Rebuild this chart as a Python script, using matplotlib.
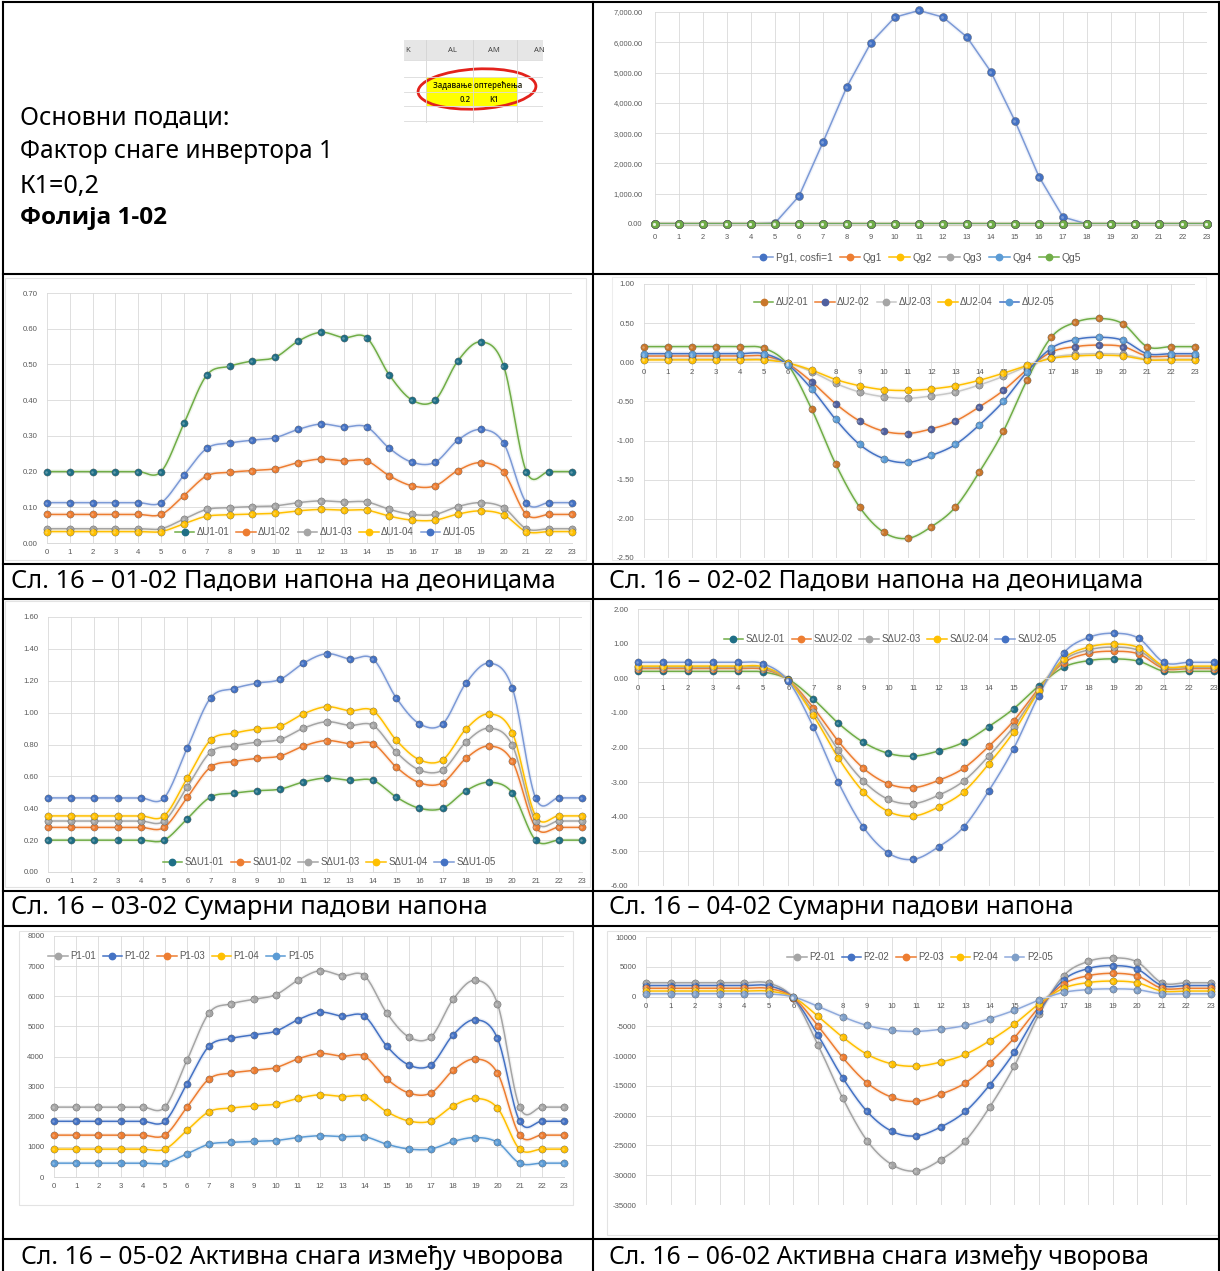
import numpy as np
import matplotlib
matplotlib.use("Agg")
import matplotlib.pyplot as plt
from matplotlib.lines import Line2D
from matplotlib.patches import Rectangle, Ellipse

# ---------------- DATA ----------------
hours = list(range(24))
hour_labels = [str(h) for h in hours]

pg1 = [0, 0, 0, 0, 0, 30, 920, 2700, 4540, 5990, 6830, 7050, 6830, 6170, 5020, 3400, 1560, 230, 0, 0, 0, 0, 0, 0]
qg1 = [0, 0, 0, 0, 0, 0, 0, 0, 0, 0, 0, 0, 0, 0, 0, 0, 0, 0, 0, 0, 0, 0, 0, 0]
qg2 = [0, 0, 0, 0, 0, 0, 0, 0, 0, 0, 0, 0, 0, 0, 0, 0, 0, 0, 0, 0, 0, 0, 0, 0]
qg3 = [0, 0, 0, 0, 0, 0, 0, 0, 0, 0, 0, 0, 0, 0, 0, 0, 0, 0, 0, 0, 0, 0, 0, 0]
qg4 = [0, 0, 0, 0, 0, 0, 0, 0, 0, 0, 0, 0, 0, 0, 0, 0, 0, 0, 0, 0, 0, 0, 0, 0]
qg5 = [0, 0, 0, 0, 0, 0, 0, 0, 0, 0, 0, 0, 0, 0, 0, 0, 0, 0, 0, 0, 0, 0, 0, 0]

du1_01 = [0.20, 0.20, 0.20, 0.20, 0.20, 0.20, 0.335, 0.47, 0.495, 0.51, 0.52, 0.565, 0.59, 0.575, 0.575, 0.47, 0.40, 0.40, 0.51, 0.563, 0.497, 0.20, 0.20, 0.20]
du1_02 = [0.08, 0.08, 0.08, 0.08, 0.08, 0.08, 0.133, 0.188, 0.198, 0.203, 0.208, 0.225, 0.235, 0.23, 0.23, 0.188, 0.16, 0.16, 0.203, 0.225, 0.198, 0.08, 0.08, 0.08]
du1_03 = [0.04, 0.04, 0.04, 0.04, 0.04, 0.04, 0.067, 0.094, 0.099, 0.102, 0.104, 0.113, 0.118, 0.115, 0.115, 0.094, 0.08, 0.08, 0.102, 0.113, 0.099, 0.04, 0.04, 0.04]
du1_04 = [0.032, 0.032, 0.032, 0.032, 0.032, 0.032, 0.054, 0.075, 0.079, 0.081, 0.083, 0.09, 0.094, 0.092, 0.092, 0.075, 0.064, 0.064, 0.081, 0.09, 0.079, 0.032, 0.032, 0.032]
du1_05 = [0.113, 0.113, 0.113, 0.113, 0.113, 0.113, 0.19, 0.265, 0.28, 0.288, 0.295, 0.318, 0.333, 0.325, 0.325, 0.265, 0.226, 0.226, 0.288, 0.318, 0.28, 0.113, 0.113, 0.113]

du2_01 = [0.20, 0.20, 0.20, 0.20, 0.20, 0.18, -0.03, -0.60, -1.30, -1.85, -2.17, -2.25, -2.10, -1.85, -1.40, -0.88, -0.22, 0.32, 0.51, 0.56, 0.49, 0.20, 0.20, 0.20]
du2_02 = [0.08, 0.08, 0.08, 0.08, 0.08, 0.08, -0.02, -0.25, -0.53, -0.75, -0.88, -0.91, -0.85, -0.75, -0.57, -0.36, -0.09, 0.13, 0.20, 0.22, 0.20, 0.08, 0.08, 0.08]
du2_03 = [0.04, 0.04, 0.04, 0.04, 0.04, 0.04, -0.01, -0.12, -0.27, -0.38, -0.44, -0.46, -0.43, -0.38, -0.29, -0.18, -0.05, 0.06, 0.10, 0.11, 0.10, 0.04, 0.04, 0.04]
du2_04 = [0.03, 0.03, 0.03, 0.03, 0.03, 0.03, -0.01, -0.10, -0.22, -0.30, -0.35, -0.36, -0.34, -0.30, -0.23, -0.14, -0.04, 0.05, 0.08, 0.09, 0.08, 0.03, 0.03, 0.03]
du2_05 = [0.11, 0.11, 0.11, 0.11, 0.11, 0.11, -0.03, -0.34, -0.73, -1.05, -1.23, -1.28, -1.19, -1.05, -0.80, -0.50, -0.12, 0.18, 0.29, 0.32, 0.28, 0.11, 0.11, 0.11]

sdu1_01 = [0.20, 0.20, 0.20, 0.20, 0.20, 0.20, 0.335, 0.47, 0.495, 0.51, 0.52, 0.565, 0.59, 0.575, 0.575, 0.47, 0.40, 0.40, 0.51, 0.563, 0.497, 0.20, 0.20, 0.20]
sdu1_02 = [0.28, 0.28, 0.28, 0.28, 0.28, 0.28, 0.468, 0.658, 0.693, 0.713, 0.728, 0.79, 0.825, 0.805, 0.805, 0.658, 0.56, 0.56, 0.713, 0.79, 0.695, 0.28, 0.28, 0.28]
sdu1_03 = [0.32, 0.32, 0.32, 0.32, 0.32, 0.32, 0.535, 0.752, 0.792, 0.815, 0.832, 0.902, 0.943, 0.92, 0.92, 0.752, 0.64, 0.64, 0.815, 0.902, 0.795, 0.32, 0.32, 0.32]
sdu1_04 = [0.352, 0.352, 0.352, 0.352, 0.352, 0.352, 0.589, 0.827, 0.871, 0.897, 0.915, 0.992, 1.037, 1.012, 1.012, 0.827, 0.704, 0.704, 0.897, 0.992, 0.874, 0.352, 0.352, 0.352]
sdu1_05 = [0.465, 0.465, 0.465, 0.465, 0.465, 0.465, 0.779, 1.092, 1.151, 1.185, 1.209, 1.31, 1.37, 1.337, 1.337, 1.092, 0.93, 0.93, 1.185, 1.31, 1.154, 0.465, 0.465, 0.465]

sdu2_01 = [0.20, 0.20, 0.20, 0.20, 0.20, 0.18, -0.03, -0.60, -1.30, -1.85, -2.17, -2.25, -2.10, -1.85, -1.40, -0.88, -0.22, 0.32, 0.51, 0.56, 0.49, 0.20, 0.20, 0.20]
sdu2_02 = [0.28, 0.28, 0.28, 0.28, 0.28, 0.26, -0.05, -0.85, -1.82, -2.60, -3.05, -3.16, -2.95, -2.60, -1.97, -1.23, -0.30, 0.45, 0.72, 0.78, 0.70, 0.28, 0.28, 0.28]
sdu2_03 = [0.32, 0.32, 0.32, 0.32, 0.32, 0.30, -0.06, -0.97, -2.08, -2.97, -3.50, -3.62, -3.38, -2.97, -2.25, -1.40, -0.35, 0.52, 0.82, 0.90, 0.80, 0.32, 0.32, 0.32]
sdu2_04 = [0.35, 0.35, 0.35, 0.35, 0.35, 0.33, -0.06, -1.07, -2.30, -3.28, -3.85, -3.98, -3.72, -3.28, -2.48, -1.55, -0.38, 0.57, 0.90, 0.99, 0.88, 0.35, 0.35, 0.35]
sdu2_05 = [0.46, 0.46, 0.46, 0.46, 0.46, 0.42, -0.08, -1.40, -3.01, -4.30, -5.05, -5.23, -4.87, -4.30, -3.26, -2.03, -0.50, 0.73, 1.18, 1.30, 1.15, 0.46, 0.46, 0.46]

p1_01 = [2320, 2320, 2320, 2320, 2320, 2320, 3880, 5450, 5750, 5900, 6050, 6530, 6850, 6680, 6680, 5450, 4650, 4650, 5900, 6530, 5750, 2320, 2320, 2320]
p1_02 = [1850, 1850, 1850, 1850, 1850, 1850, 3100, 4350, 4600, 4720, 4840, 5220, 5470, 5340, 5340, 4350, 3720, 3720, 4720, 5220, 4600, 1850, 1850, 1850]
p1_03 = [1390, 1390, 1390, 1390, 1390, 1390, 2320, 3260, 3450, 3540, 3630, 3920, 4100, 4010, 4010, 3260, 2790, 2790, 3540, 3920, 3450, 1390, 1390, 1390]
p1_04 = [925, 925, 925, 925, 925, 925, 1550, 2170, 2290, 2360, 2420, 2610, 2730, 2670, 2670, 2170, 1860, 1860, 2360, 2610, 2290, 925, 925, 925]
p1_05 = [460, 460, 460, 460, 460, 460, 770, 1090, 1150, 1180, 1210, 1310, 1370, 1340, 1340, 1090, 930, 930, 1180, 1310, 1150, 460, 460, 460]

p2_01 = [2320, 2320, 2320, 2320, 2320, 2250, -300, -8100, -17000, -24200, -28200, -29300, -27400, -24200, -18500, -11600, -3000, 3500, 5900, 6500, 5800, 2320, 2320, 2320]
p2_02 = [1850, 1850, 1850, 1850, 1850, 1800, -250, -6500, -13600, -19300, -22600, -23400, -21900, -19300, -14800, -9300, -2400, 2800, 4700, 5200, 4600, 1850, 1850, 1850]
p2_03 = [1390, 1390, 1390, 1390, 1390, 1350, -180, -4900, -10200, -14500, -16900, -17600, -16400, -14500, -11100, -6900, -1800, 2100, 3500, 3900, 3450, 1390, 1390, 1390]
p2_04 = [925, 925, 925, 925, 925, 900, -120, -3300, -6800, -9700, -11300, -11700, -11000, -9700, -7400, -4600, -1200, 1400, 2350, 2600, 2300, 925, 925, 925]
p2_05 = [460, 460, 460, 460, 460, 450, -60, -1650, -3400, -4850, -5650, -5850, -5500, -4850, -3700, -2300, -600, 700, 1170, 1300, 1150, 460, 460, 460]

captions = [
    "Сл. 16 – 01-02 Падови напона на деоницама",
    "Сл. 16 – 02-02 Падови напона на деоницама",
    "Сл. 16 – 03-02 Сумарни падови напона",
    "Сл. 16 – 04-02 Сумарни падови напона",
    "Сл. 16 – 05-02 Активна снага између чворова",
    "Сл. 16 – 06-02 Активна снага између чворова",
]
info_lines = ["Основни подаци:", "Фактор снаге инвертора 1", "К1=0,2", "Фолија 1-02"]

# ---------------- STYLE ----------------
GREEN, ORANGE, GRAY, YELLOW, LBLUE, DBLUE = "#70AD47", "#ED7D31", "#A5A5A5", "#FFC000", "#5B9BD5", "#4472C4"
TEAL = "#1F6F86"
GRID = "#D9D9D9"
TXT = "#595959"
FONT = ["Noto Sans", "DejaVu Sans"]
BOLDFONT = ["Open Sans", "Noto Sans", "DejaVu Sans"]
TICKFONT = ["Liberation Sans", "DejaVu Sans"]

W, H = 1220, 1271
fig = plt.figure(figsize=(W / 100, H / 100), dpi=100)
fig.patch.set_facecolor("white")


def fx(x):
    return x / W


def fy(y):
    return 1 - y / H


def smooth(x, y, n=16):
    P = np.column_stack([np.asarray(x, float), np.asarray(y, float)])
    out = []
    t = np.linspace(0, 1, n, endpoint=False)[:, None]
    for i in range(len(P) - 1):
        p0 = P[i - 1] if i > 0 else P[i]
        p1, p2 = P[i], P[i + 1]
        p3 = P[i + 2] if i + 2 < len(P) else P[i + 1]
        c1 = p1 + (p2 - p0) / 6.0
        c2 = p2 - (p3 - p1) / 6.0
        out.append((1 - t) ** 3 * p1 + 3 * (1 - t) ** 2 * t * c1 + 3 * (1 - t) * t ** 2 * c2 + t ** 3 * p2)
    out.append(P[-1:])
    return np.vstack(out)


def chart_box(x0, y0, x1, y1, color="#E3E3E3"):
    fig.add_artist(Rectangle((fx(x0), fy(y1)), fx(x1 - x0), (y1 - y0) / H, transform=fig.transFigure,
                             facecolor="white", edgecolor=color, lw=0.8, zorder=0))


def make_chart(px0, px1, pytop, pybot, ymin, ymax, ystep, fmt, series, legend_center, ncol=5,
               zero_axis=False, smooth_lines=True, ms=5.2, legend_fs=7.0, tick_fs=5.6, xlab_pad=4.5, ylab_pad=7):
    ax = fig.add_axes([fx(px0), fy(pybot), fx(px1 - px0), (pybot - pytop) / H])
    ax.set_facecolor("none")
    ax.set_xlim(0, 23)
    ax.set_ylim(ymin, ymax)
    ticks = np.arange(ymin, ymax + ystep * 0.5, ystep)
    ax.set_yticks(ticks)
    ax.set_yticklabels([fmt(v) for v in ticks])
    ax.set_xticks(hours)
    ax.set_xticklabels(hour_labels)
    ax.grid(True, color=GRID, lw=0.6)
    ax.set_axisbelow(True)
    for s in ["top", "right", "left"]:
        ax.spines[s].set_visible(False)
    ax.spines["bottom"].set_color(GRID)
    ax.spines["bottom"].set_linewidth(0.7)
    if zero_axis:
        ax.spines["bottom"].set_position(("data", 0))
    ax.tick_params(length=0, labelsize=tick_fs, labelcolor=TXT)
    ax.tick_params(axis="x", pad=xlab_pad)
    ax.tick_params(axis="y", pad=ylab_pad)
    for lab in ax.get_xticklabels() + ax.get_yticklabels():
        lab.set_family(TICKFONT)
    handles = []
    for vals, lc, mc, label in series:
        if smooth_lines:
            c = smooth(hours, vals)
        else:
            c = np.column_stack([hours, vals])
        ax.plot(c[:, 0], c[:, 1], color=lc, lw=3.0, alpha=0.12, clip_on=False, solid_capstyle="round")
        ax.plot(c[:, 0], c[:, 1], color=lc, lw=1.1, clip_on=False)
        ax.plot(hours, vals, ls="none", marker="o", ms=ms, mfc=mc, mec="#505050", mew=0.25, clip_on=False, zorder=4)
        ax.plot(np.array(hours) - 0.05, vals, ls="none", marker="o", ms=ms * 0.35, mfc="white", mec="none",
                alpha=0.3, clip_on=False, zorder=5)
        handles.append(Line2D([], [], color=lc, lw=1.1, marker="o", ms=4.6, mfc=mc, mec=mc, label=label))
    leg = ax.legend(handles=handles, loc="center", bbox_to_anchor=(fx(legend_center[0]), fy(legend_center[1])),
                    bbox_transform=fig.transFigure, ncol=ncol, frameon=False,
                    handlelength=2.0, handletextpad=0.25, columnspacing=0.7, borderpad=0.1,
                    prop={"family": TICKFONT, "size": legend_fs})
    for t in leg.get_texts():
        t.set_color(TXT)
    return ax


# ---------------- CHART AREA BOXES ----------------
chart_box(5, 278, 586, 560)
chart_box(612, 277, 1206, 560, color="#EDEDED")
chart_box(5, 601, 590, 887)
chart_box(19, 931, 573, 1205)
chart_box(607, 931, 1219, 1235)

# ---------------- TOP RIGHT ----------------
make_chart(655, 1207, 12, 224, 0, 7000, 1000, lambda v: f"{v:,.2f}",
           [(pg1, "#7C9AD6", DBLUE, "Pg1, cosfi=1"),
            (qg1, ORANGE, ORANGE, "Qg1"),
            (qg2, YELLOW, YELLOW, "Qg2"),
            (qg3, GRAY, GRAY, "Qg3"),
            (qg4, LBLUE, LBLUE, "Qg4"),
            (qg5, GREEN, GREEN, "Qg5")],
           (917, 258), ncol=6, smooth_lines=False, ms=5.8, legend_fs=7.4, tick_fs=5.4, xlab_pad=7, ylab_pad=9)

# ---------------- ROW 2 ----------------
make_chart(47, 572, 293, 543, 0.0, 0.70, 0.10, lambda v: f"{v:.2f}",
           [(du1_01, GREEN, TEAL, "ΔU1-01"),
            (du1_02, ORANGE, ORANGE, "ΔU1-02"),
            (du1_03, GRAY, GRAY, "ΔU1-03"),
            (du1_04, YELLOW, YELLOW, "ΔU1-04"),
            (du1_05, "#7C9AD6", DBLUE, "ΔU1-05")],
           (325, 532))

make_chart(644, 1195, 284, 558, -2.5, 1.0, 0.5, lambda v: f"{v:.2f}",
           [(du2_01, GREEN, "#C9772B", "ΔU2-01"),
            (du2_02, ORANGE, "#50609F", "ΔU2-02"),
            (du2_03, "#C8C8C8", GRAY, "ΔU2-03"),
            (du2_04, YELLOW, YELLOW, "ΔU2-04"),
            (du2_05, DBLUE, LBLUE, "ΔU2-05")],
           (904, 302), zero_axis=True)

# ---------------- ROW 3 ----------------
make_chart(48, 582, 617, 872, 0.0, 1.60, 0.20, lambda v: f"{v:.2f}",
           [(sdu1_01, GREEN, TEAL, "SΔU1-01"),
            (sdu1_02, ORANGE, ORANGE, "SΔU1-02"),
            (sdu1_03, GRAY, GRAY, "SΔU1-03"),
            (sdu1_04, YELLOW, YELLOW, "SΔU1-04"),
            (sdu1_05, "#7C9AD6", DBLUE, "SΔU1-05")],
           (329, 862))

make_chart(638, 1214, 609, 886, -6.0, 2.0, 1.0, lambda v: f"{v:.2f}",
           [(sdu2_01, GREEN, TEAL, "SΔU2-01"),
            (sdu2_02, ORANGE, ORANGE, "SΔU2-02"),
            (sdu2_03, GRAY, GRAY, "SΔU2-03"),
            (sdu2_04, YELLOW, YELLOW, "SΔU2-04"),
            (sdu2_05, "#7C9AD6", DBLUE, "SΔU2-05")],
           (890, 639), zero_axis=True)

# ---------------- ROW 4 ----------------
make_chart(54, 564, 936, 1177, 0, 8000, 1000, lambda v: f"{v:.0f}",
           [(p1_01, GRAY, GRAY, "P1-01"),
            (p1_02, DBLUE, DBLUE, "P1-02"),
            (p1_03, ORANGE, ORANGE, "P1-03"),
            (p1_04, YELLOW, YELLOW, "P1-04"),
            (p1_05, LBLUE, LBLUE, "P1-05")],
           (181, 956))

make_chart(646, 1211, 937, 1205, -35000, 10000, 5000, lambda v: f"{v:.0f}",
           [(p2_01, GRAY, GRAY, "P2-01"),
            (p2_02, DBLUE, DBLUE, "P2-02"),
            (p2_03, ORANGE, ORANGE, "P2-03"),
            (p2_04, YELLOW, YELLOW, "P2-04"),
            (p2_05, "#8FAADC", "#7F9FC8", "P2-05")],
           (920, 957), zero_axis=True)

# ---------------- TEXT ----------------
renderer = fig.canvas.get_renderer()


def fit_text(x, y, s, target_w, weight="normal", color="black", family=FONT, ha="left"):
    t = fig.text(fx(x), fy(y), s, fontsize=20, family=family, weight=weight, va="center", ha=ha, color=color)
    w = t.get_window_extent(renderer).width
    t.set_fontsize(20 * target_w / w)
    return t


cap_pos = [(11, 581, 546), (609, 581, 534), (11, 908, 477), (609, 908, 464), (21, 1257, 542), (609, 1257, 540)]
for (x, y, w), s in zip(cap_pos, captions):
    fit_text(x, y, s, w)

info_pos = [(20, 118, 210), (20, 152, 313), (20, 187, 80)]
for (x, y, w), s in zip(info_pos, info_lines[:3]):
    fit_text(x, y, s, w)
fit_text(20, 218, info_lines[3], 147, weight="bold", family=BOLDFONT)

# ---------------- EXCEL SNIPPET ----------------
axi = fig.add_axes([fx(404), fy(123), fx(543 - 404), (123 - 40) / H])
axi.set_xlim(404, 543)
axi.set_ylim(123, 40)
axi.axis("off")
axi.add_patch(Rectangle((404, 40), 139, 20, facecolor="#E6E6E6", edgecolor="none"))
axi.add_patch(Rectangle((426, 77), 91, 29, facecolor="#FFFF00", edgecolor="none"))
for xv in [426, 473, 517]:
    axi.plot([xv, xv], [40, 123], color="#D4D4D4", lw=0.6)
for yv in [60, 77, 92, 106, 121]:
    axi.plot([404, 543], [yv, yv], color="#DADADA", lw=0.6)
for xv, s in [(408, "K"), (452, "AL"), (494, "AM"), (539, "AN")]:
    axi.text(xv, 51, s, fontsize=5.5, color="#444444", ha="center", va="center", family=FONT)
axi.text(478, 86, "Задавање оптерећења", fontsize=5.6, color="#1a1a00", ha="center", va="center",
         family=BOLDFONT, weight="semibold")
axi.text(465, 99, "0.2", fontsize=5.6, color="#1a1a00", ha="center", va="center", family=BOLDFONT, weight="semibold")
axi.text(494, 99, "K1", fontsize=5.6, color="#1a1a00", ha="center", va="center", family=BOLDFONT, weight="semibold")
axi.add_patch(Ellipse((477, 89), 118, 40, angle=-3, fill=False, edgecolor="#E3221C", lw=2.0, clip_on=False))

# ---------------- TABLE LINES ----------------
def hline(y, x0=3, x1=1219, lw=1.5):
    fig.add_artist(Line2D([fx(x0), fx(x1)], [fy(y), fy(y)], transform=fig.transFigure, color="black", lw=lw, zorder=10))


def vline(x, y0=2, y1=1271, lw=1.5):
    fig.add_artist(Line2D([fx(x), fx(x)], [fy(y0), fy(y1)], transform=fig.transFigure, color="black", lw=lw, zorder=10))


hline(2)
for yv in [274, 564, 599, 891, 926, 1239]:
    hline(yv)
vline(3)
vline(593)
vline(1219)

fig.savefig("out.png", dpi=100, facecolor="white")
